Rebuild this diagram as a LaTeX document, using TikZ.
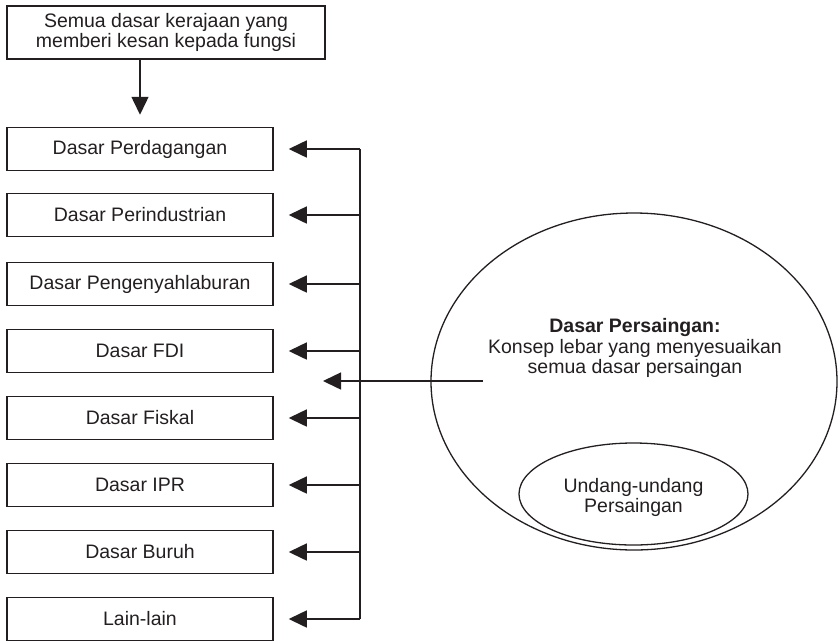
\documentclass[tikz,border=0pt]{standalone}
\usepackage{fontspec}
\setmainfont{Liberation Sans}
\usetikzlibrary{arrows.meta,shapes.geometric}
\definecolor{ink}{HTML}{231F20}
\begin{document}
\begin{tikzpicture}[x=1pt,y=-1pt,
  every node/.style={font=\fontsize{19.5}{20.5}\selectfont, text=ink},
  boxnode/.style={draw=ink, line width=1.5pt, rectangle, inner sep=0pt, minimum width=266pt, minimum height=43pt, align=center},
  topnode/.style={draw=ink, line width=1.5pt, rectangle, inner sep=0pt, minimum width=318pt, minimum height=53pt, align=center},
  ovalnode/.style={draw=ink, line width=1.3pt, ellipse, inner sep=0pt},
  conn/.style={draw=ink, line width=1.5pt},
  arr/.style={conn, -{Triangle[length=18pt,width=17pt]}}
]
\useasboundingbox (0,0) rectangle (840,641);

\node[topnode] (top) at (166,32.5) {Semua dasar kerajaan yang\\memberi kesan kepada fungsi};

\node[boxnode] (b1) at (140,149) {Dasar Perdagangan};
\node[boxnode] (b2) at (140,215) {Dasar Perindustrian};
\node[boxnode] (b3) at (140,284) {Dasar Pengenyahlaburan};
\node[boxnode] (b4) at (140,351) {Dasar FDI};
\node[boxnode] (b5) at (140,418) {Dasar Fiskal};
\node[boxnode] (b6) at (140,485) {Dasar IPR};
\node[boxnode] (b7) at (140,552) {Dasar Buruh};
\node[boxnode] (b8) at (140,619) {Lain-lain};

\draw[arr, shorten >=12pt] (top.south -| 140,0) -- (b1.north -| 140,0);

\foreach \i/\y in {1/149,2/215,3/284,4/351,5/418,6/485,7/552,8/619} {
  \coordinate (j\i) at (360,\y);
  \draw[arr, shorten >=15pt] (j\i) -- (b\i.east);
}
\draw[conn] (j1) -- (j8);

\node[ovalnode, minimum width=406pt, minimum height=337pt] (comp) at (634,381.5) {};
\node[align=center] (comptext) at (635,348) {\textbf{Dasar Persaingan:}\\Konsep lebar yang menyesuaikan\\semua dasar persaingan};
\node[ovalnode, minimum width=229pt, minimum height=102pt] (law) at (633.5,494) {};
\node[align=center] (lawtext) at (633.5,497.5) {Undang-undang\\Persaingan};

\coordinate (src) at (483,381);
\coordinate (tgt) at (323,381);
\draw[arr] (src) -- (tgt);
\end{tikzpicture}
\end{document}
